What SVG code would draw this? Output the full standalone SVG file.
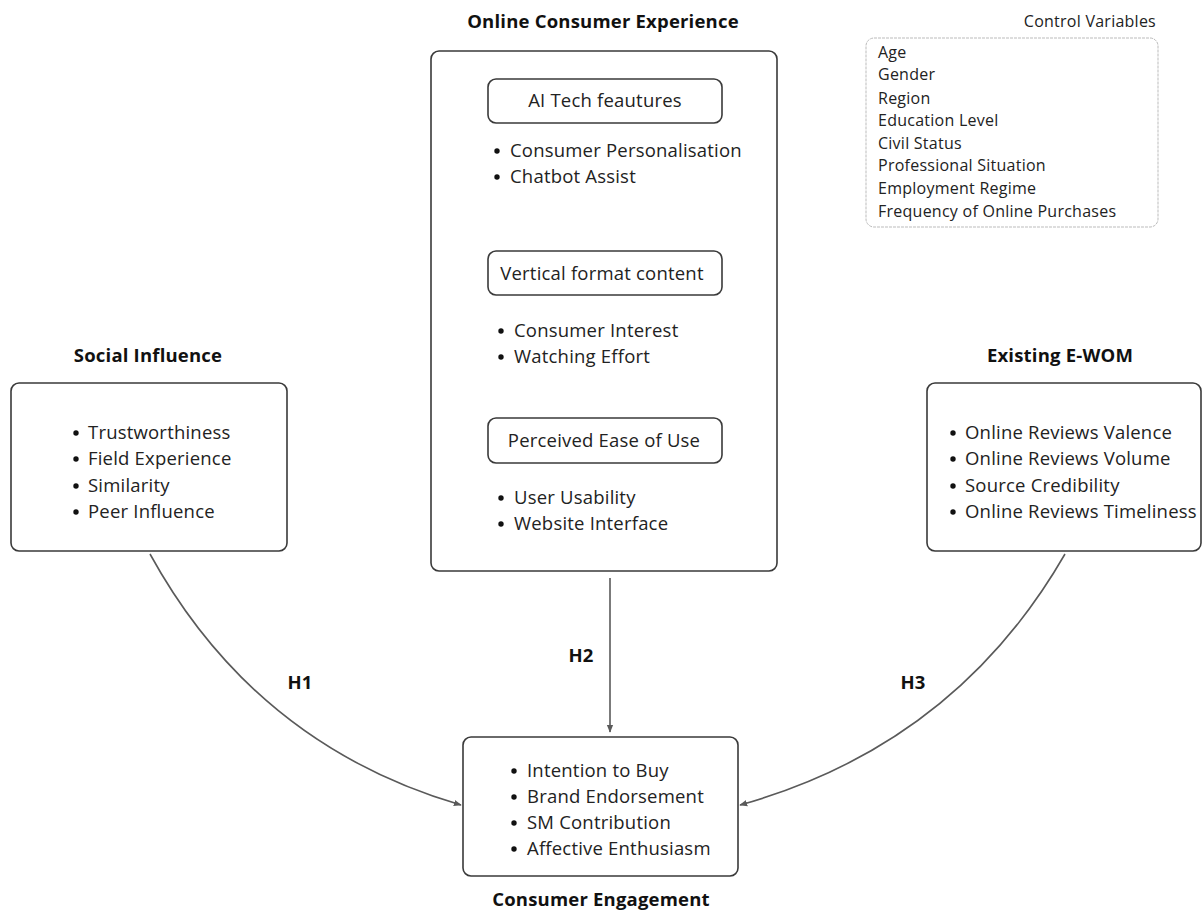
<svg xmlns="http://www.w3.org/2000/svg" width="1202" height="910" viewBox="0 0 1202 910">
<defs>
<style>
.box{fill:#fff;stroke:#3a3a3a;stroke-width:1.6}
.sub{fill:#fff;stroke:#3a3a3a;stroke-width:1.6}
.t{font-family:"Open Sans","Noto Sans",sans-serif;font-size:18.5px;letter-spacing:0.2px;fill:#222}
.c{font-family:"Open Sans","Noto Sans",sans-serif;font-size:16px;letter-spacing:0.25px;fill:#222}
.h{font-family:"Open Sans","Noto Sans",sans-serif;font-size:18.5px;letter-spacing:0.2px;font-weight:bold;fill:#111}
.mid{text-anchor:middle}
.b{fill:#111}
.con{fill:none;stroke:#5a5a5a;stroke-width:1.6}
</style>
<marker id="arr" viewBox="0 0 10 10" refX="9" refY="5" markerWidth="8" markerHeight="8" orient="auto" markerUnits="userSpaceOnUse">
<path d="M0,1 L10,5 L0,9 Z" fill="#5a5a5a"/>
</marker>
</defs>
<rect width="1202" height="910" fill="#fff"/>

<g id="connectors">
<path class="con" d="M610,578 L610,732" marker-end="url(#arr)"/>
<path class="con" d="M150,554 Q255,745 461,805" marker-end="url(#arr)"/>
<path class="con" d="M1065,554 Q955,745 740,805" marker-end="url(#arr)"/>
<text class="h mid" x="300" y="689">H1</text>
<text class="h mid" x="581" y="662">H2</text>
<text class="h mid" x="913" y="689">H3</text>
</g>

<g id="online-consumer-experience">
<text class="h mid" x="603" y="28">Online Consumer Experience</text>
<rect class="box" x="431" y="51" width="346" height="520" rx="8"/>
<g id="ai-tech">
<rect class="sub" x="488" y="79" width="234" height="44" rx="8"/>
<text class="t mid" x="605" y="107">AI Tech feautures</text>
<circle class="b" cx="497" cy="151" r="2.7"/>
<text class="t" x="510" y="157">Consumer Personalisation</text>
<circle class="b" cx="497" cy="177" r="2.7"/>
<text class="t" x="510" y="183">Chatbot Assist</text>
</g>
<g id="vertical-format">
<rect class="sub" x="488" y="251" width="234" height="44" rx="8"/>
<text class="t mid" x="602" y="280">Vertical format content</text>
<circle class="b" cx="501" cy="331" r="2.7"/>
<text class="t" x="514" y="337">Consumer Interest</text>
<circle class="b" cx="501" cy="357" r="2.7"/>
<text class="t" x="514" y="363">Watching Effort</text>
</g>
<g id="ease-of-use">
<rect class="sub" x="488" y="418" width="234" height="45" rx="8"/>
<text class="t mid" x="604" y="447">Perceived Ease of Use</text>
<circle class="b" cx="501" cy="498" r="2.7"/>
<text class="t" x="514" y="504">User Usability</text>
<circle class="b" cx="501" cy="524" r="2.7"/>
<text class="t" x="514" y="530">Website Interface</text>
</g>
</g>

<g id="social-influence">
<text class="h mid" x="148" y="362">Social Influence</text>
<rect class="box" x="11" y="383" width="276" height="168" rx="8"/>
<circle class="b" cx="76" cy="433" r="2.7"/>
<text class="t" x="88" y="439">Trustworthiness</text>
<circle class="b" cx="76" cy="459" r="2.7"/>
<text class="t" x="88" y="465">Field Experience</text>
<circle class="b" cx="76" cy="486" r="2.7"/>
<text class="t" x="88" y="492">Similarity</text>
<circle class="b" cx="76" cy="512" r="2.7"/>
<text class="t" x="88" y="518">Peer Influence</text>
</g>

<g id="existing-ewom">
<text class="h mid" x="1060" y="362">Existing E-WOM</text>
<rect class="box" x="927" y="383" width="274" height="168" rx="8"/>
<circle class="b" cx="953" cy="433" r="2.7"/>
<text class="t" x="965" y="439">Online Reviews Valence</text>
<circle class="b" cx="953" cy="459" r="2.7"/>
<text class="t" x="965" y="465">Online Reviews Volume</text>
<circle class="b" cx="953" cy="486" r="2.7"/>
<text class="t" x="965" y="492">Source Credibility</text>
<circle class="b" cx="953" cy="512" r="2.7"/>
<text class="t" x="965" y="518">Online Reviews Timeliness</text>
</g>

<g id="consumer-engagement">
<rect class="box" x="463" y="737" width="275" height="139" rx="8"/>
<circle class="b" cx="514" cy="771" r="2.7"/>
<text class="t" x="527" y="777">Intention to Buy</text>
<circle class="b" cx="514" cy="797" r="2.7"/>
<text class="t" x="527" y="803">Brand Endorsement</text>
<circle class="b" cx="514" cy="823" r="2.7"/>
<text class="t" x="527" y="829">SM Contribution</text>
<circle class="b" cx="514" cy="849" r="2.7"/>
<text class="t" x="527" y="855">Affective Enthusiasm</text>
<text class="h mid" x="601" y="906">Consumer Engagement</text>
</g>

<g id="control-variables">
<text class="c" x="1156" y="27" text-anchor="end">Control Variables</text>
<rect x="866" y="38" width="292" height="189" rx="8" fill="#fff" stroke="#bbb" stroke-width="1" stroke-dasharray="3,1"/>
<text class="c" x="878" y="58">Age</text>
<text class="c" x="878" y="80">Gender</text>
<text class="c" x="878" y="104">Region</text>
<text class="c" x="878" y="126">Education Level</text>
<text class="c" x="878" y="149">Civil Status</text>
<text class="c" x="878" y="171">Professional Situation</text>
<text class="c" x="878" y="194">Employment Regime</text>
<text class="c" x="878" y="217">Frequency of Online Purchases</text>
</g>
</svg>
